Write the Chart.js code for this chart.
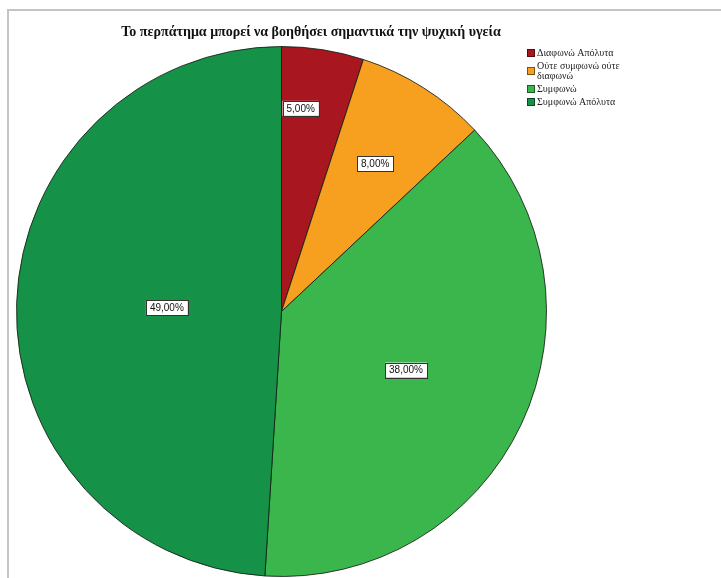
<!DOCTYPE html>
<html>
<head>
<meta charset="utf-8">
<script src="https://cdn.jsdelivr.net/npm/chart.js@4.4.1/dist/chart.umd.min.js"></script>
<style>
  body { margin: 0; background: #fff; }
  #PieChart { display: block; }
</style>
</head>
<body>
<canvas id="PieChart" width="721" height="578"></canvas>
<script>
const chartTitle = 'Το περπάτημα μπορεί να βοηθήσει σημαντικά την ψυχική υγεία';
const categories = ['Διαφωνώ Απόλυτα', 'Ούτε συμφωνώ ούτε διαφωνώ', 'Συμφωνώ', 'Συμφωνώ Απόλυτα'];
const percents = [5, 8, 38, 49];
const sliceColors = ['rgb(168,22,32)', 'rgb(247,160,32)', 'rgb(58,182,76)', 'rgb(22,145,72)'];

// gray frame around the output, only top and left edges show
const frame = {
  id: 'frame',
  beforeDraw(chart) {
    const { ctx } = chart;
    ctx.save();
    ctx.strokeStyle = 'rgb(196,196,196)';
    ctx.lineWidth = 2;
    ctx.beginPath();
    ctx.moveTo(8, chart.height);
    ctx.lineTo(8, 10);
    ctx.lineTo(chart.width, 10);
    ctx.stroke();
    ctx.restore();
  }
};

const titleText = {
  id: 'titleText',
  afterDraw(chart) {
    const { ctx } = chart;
    ctx.save();
    ctx.font = 'bold 14px "Liberation Serif"';
    ctx.fillStyle = '#111';
    ctx.textAlign = 'center';
    ctx.textBaseline = 'middle';
    ctx.fillText(chartTitle, 311, 32);
    ctx.restore();
  }
};

// percentage boxes, put near the centroid of each slice
const sliceLabels = {
  id: 'sliceLabels',
  afterDatasetDraw(chart, args) {
    const { ctx } = chart;
    const total = percents.reduce((s, v) => s + v, 0);
    ctx.save();
    ctx.font = '10px "Liberation Sans"';
    ctx.textAlign = 'center';
    ctx.textBaseline = 'middle';
    args.meta.data.forEach((arc, i) => {
      const share = percents[i] / total;
      const half = (arc.endAngle - arc.startAngle) / 2;
      const mid = arc.startAngle + half;
      let d = (2 / 3) * arc.outerRadius * Math.sin(half) / half;
      let ang = mid;
      if (share < 0.06) {
        d = arc.outerRadius * 0.77;
        ang = arc.startAngle + half * 0.6;
      }
      const x = arc.x + Math.cos(ang) * d;
      const y = arc.y + Math.sin(ang) * d;
      const txt = percents[i].toFixed(2).replace('.', ',') + '%';
      const w = ctx.measureText(txt).width + 8;
      const h = 15;
      ctx.fillStyle = '#fff';
      ctx.fillRect(x - w / 2, y - h / 2, w, h);
      ctx.strokeStyle = '#333';
      ctx.lineWidth = 1;
      ctx.strokeRect(Math.round(x - w / 2) + 0.5, Math.round(y - h / 2) + 0.5, Math.round(w), h);
      ctx.fillStyle = '#111';
      ctx.fillText(txt, x, y + 0.5);
    });
    ctx.restore();
  }
};

// legend in the top right corner, long names wrap onto a second line
const sideLegend = {
  id: 'sideLegend',
  afterDraw(chart) {
    const { ctx } = chart;
    const colors = chart.data.datasets[0].backgroundColor;
    const left = 527, maxW = 110, lineH = 10;
    let y = 53;
    ctx.save();
    ctx.font = '10px "Liberation Serif"';
    ctx.textBaseline = 'middle';
    chart.data.labels.forEach((label, i) => {
      const lines = [];
      let cur = '';
      label.split(' ').forEach(word => {
        const test = cur ? cur + ' ' + word : word;
        if (ctx.measureText(test).width > maxW && cur) {
          lines.push(cur);
          cur = word;
        } else {
          cur = test;
        }
      });
      lines.push(cur);
      const blockH = lines.length * lineH;
      const boxY = y + (blockH - lineH) / 2;
      ctx.fillStyle = colors[i];
      ctx.fillRect(left, boxY - 4, 8, 8);
      ctx.strokeStyle = 'rgba(0,0,0,0.5)';
      ctx.strokeRect(left + 0.5, boxY - 3.5, 7, 7);
      ctx.fillStyle = '#222';
      lines.forEach((ln, k) => ctx.fillText(ln, left + 10, y + k * lineH));
      y += blockH + 3;
    });
    ctx.restore();
  }
};

const PieChart = document.getElementById('PieChart').getContext('2d');

new Chart(PieChart, {
  type: 'pie',
  data: {
    labels: categories,
    datasets: [{
      data: percents,
      backgroundColor: sliceColors,
      borderColor: 'rgba(20,30,20,0.85)',
      borderWidth: 1
    }]
  },
  options: {
    responsive: false,
    animation: false,
    layout: { padding: { left: 16, top: 46, right: 174, bottom: 1 } },
    plugins: {
      legend: { display: false },
      tooltip: { enabled: false }
    }
  },
  plugins: [frame, sliceLabels, titleText, sideLegend]
});
</script>
</body>
</html>
